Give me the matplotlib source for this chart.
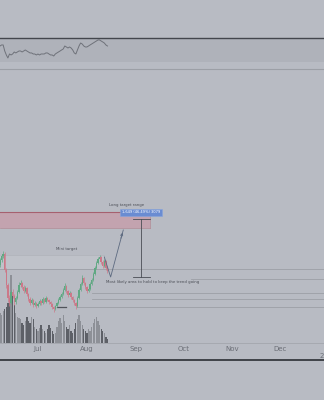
import datetime as dt

import matplotlib
matplotlib.use("Agg")
import matplotlib.pyplot as plt
import matplotlib.dates as mdates
from matplotlib.lines import Line2D

BG = "#b8bbc3"
C_UP, C_DN = "#5fa882", "#cc7888"
V_UP, V_DN = "#8d9097", "#5d6067"

START = dt.date(2023, 6, 7)

# daily candles (price units), open = previous close
first_open = 1.78
closes = [1.83, 1.87, 1.89, 1.73, 1.58, 1.45, 1.40, 1.51, 1.47, 1.41, 1.45, 1.51, 1.58, 1.60,
          1.56, 1.52, 1.55, 1.49, 1.44, 1.40, 1.43, 1.38, 1.40, 1.37, 1.39, 1.42, 1.40, 1.44,
          1.41, 1.45, 1.43, 1.41, 1.39, 1.36, 1.34, 1.37, 1.40, 1.43, 1.46, 1.49, 1.53, 1.57,
          1.52, 1.48, 1.50, 1.46, 1.43, 1.40, 1.37, 1.45, 1.53, 1.59, 1.65, 1.60, 1.56, 1.52,
          1.54, 1.59, 1.63, 1.69, 1.75, 1.80, 1.84, 1.86, 1.81, 1.77, 1.82, 1.75, 1.72]
highs = [1.85, 1.89, 1.92, 1.91, 1.75, 1.60, 1.48, 1.53, 1.54, 1.49, 1.47, 1.53, 1.61, 1.63,
         1.61, 1.58, 1.57, 1.56, 1.50, 1.46, 1.45, 1.44, 1.42, 1.41, 1.41, 1.44, 1.43, 1.46,
         1.45, 1.47, 1.46, 1.44, 1.42, 1.40, 1.37, 1.38, 1.41, 1.45, 1.48, 1.51, 1.55, 1.60,
         1.58, 1.53, 1.52, 1.51, 1.47, 1.44, 1.41, 1.47, 1.55, 1.61, 1.68, 1.66, 1.61, 1.57,
         1.56, 1.61, 1.65, 1.71, 1.77, 1.82, 1.86, 1.88, 1.87, 1.83, 1.84, 1.83, 1.77]
lows = [1.76, 1.81, 1.85, 1.71, 1.55, 1.41, 1.37, 1.39, 1.45, 1.38, 1.39, 1.44, 1.50, 1.56,
        1.54, 1.50, 1.51, 1.47, 1.42, 1.38, 1.39, 1.36, 1.37, 1.35, 1.36, 1.38, 1.38, 1.39,
        1.40, 1.40, 1.42, 1.39, 1.37, 1.34, 1.31, 1.33, 1.36, 1.39, 1.42, 1.45, 1.48, 1.52,
        1.50, 1.46, 1.47, 1.44, 1.41, 1.38, 1.34, 1.36, 1.44, 1.52, 1.58, 1.58, 1.54, 1.50,
        1.51, 1.53, 1.58, 1.62, 1.68, 1.74, 1.79, 1.83, 1.79, 1.75, 1.76, 1.73, 1.70]
volumes = [30, 28, 32, 34, 36, 40, 45, 68, 50, 38, 30, 26, 25, 24, 20, 18, 22, 26, 22, 20,
           26, 24, 16, 14, 12, 15, 18, 14, 12, 10, 14, 18, 15, 12, 9, 10, 16, 22, 25, 20,
           28, 22, 16, 14, 18, 12, 10, 14, 20, 24, 28, 22, 18, 14, 12, 10, 14, 12, 16, 20,
           24, 26, 22, 18, 14, 12, 10, 6, 4]
rsi = [57.8, 59.6, 59.6, 49.1, 42.2, 37.0, 43.9, 42.2, 43.9, 47.4, 45.7, 47.4, 49.1, 49.1,
       47.4, 49.1, 50.9, 49.1, 47.4, 45.7, 45.7, 43.9, 43.9, 42.2, 43.9, 42.2, 43.9, 43.9,
       43.9, 45.7, 45.7, 43.9, 42.2, 42.2, 40.4, 43.9, 45.7, 47.4, 49.1, 50.9, 52.6, 57.8,
       56.1, 54.3, 56.1, 54.3, 50.9, 45.7, 43.9, 50.9, 57.8, 63.0, 61.3, 57.8, 56.1, 56.1,
       57.8, 59.6, 61.3, 63.0, 64.8, 66.5, 68.3, 68.3, 66.5, 64.8, 63.0, 59.6, 57.8]

# drawings: (price, start date, end date or None for right edge)
target_zone = (2.15, 2.31, dt.date(2023, 9, 10))
mini_zone = (1.74, 1.88, dt.date(2023, 8, 12))
levels = [(1.74, START, None), (1.64, dt.date(2023, 10, 6), None),
          (1.50, dt.date(2023, 8, 4), None), (1.44, dt.date(2023, 8, 4), None),
          (1.36, dt.date(2023, 7, 26), None)]
path_dates = [dt.date(2023, 8, 12), dt.date(2023, 8, 16), dt.date(2023, 8, 24)]
path_prices = [1.86, 1.66, 2.13]
measure = (dt.date(2023, 9, 4), 1.66, 2.24)

days = [START + dt.timedelta(days=i) for i in range(len(closes))]
opens = [first_open] + closes[:-1]

fig = plt.figure(figsize=(3.24, 4.0), dpi=100, facecolor=BG)

# indicator pane
ax_ind = fig.add_axes([0, 1 - 69 / 400, 1, 31 / 400], facecolor=BG)
ax_ind.axhspan(30, 70, color="#afb2ba", lw=0)
ax_ind.plot(days, rsi, color="#6f727a", lw=0.7)
ax_ind.set_ylim(17.8, 71.7)
for s in ("left", "right", "bottom"):
    ax_ind.spines[s].set_visible(False)
ax_ind.spines["top"].set_color("#43464d")
ax_ind.spines["top"].set_linewidth(1.0)
ax_ind.set_xticks([])
ax_ind.set_yticks([])

# main pane
ax = fig.add_axes([0, 0.1425, 1, 0.685], facecolor=BG)
xlim = (mdates.date2num(START), mdates.date2num(START) + 205)
ax.set_xlim(*xlim)
ax_ind.set_xlim(*xlim)
ax.set_ylim(1.0, 3.74)

lo, hi, zend = target_zone
ax.fill_between([xlim[0], mdates.date2num(zend)], lo, hi, color="#c3a3af", lw=0, zorder=1)
ax.plot([xlim[0], mdates.date2num(zend)], [hi, hi], color="#a6606f", lw=0.8, zorder=2)
ax.plot([xlim[0], mdates.date2num(zend)], [lo, lo], color="#b38893", lw=0.5, zorder=2)
ax.plot([mdates.date2num(zend)] * 2, [lo, hi], color="#b38893", lw=0.5, zorder=2)

lo, hi, zend = mini_zone
ax.fill_between([xlim[0], mdates.date2num(zend)], lo, hi, color="#bfc2c9", lw=0, zorder=1)
ax.plot([xlim[0], mdates.date2num(zend)], [hi, hi], color="#aeb1b8", lw=0.5, zorder=2)

for price, d0, d1 in levels:
    x1 = xlim[1] if d1 is None else mdates.date2num(d1)
    ax.plot([mdates.date2num(d0), x1], [price, price], color="#9c9fa6", lw=0.6, zorder=2)
ax.plot([dt.date(2023, 7, 13), dt.date(2023, 7, 19)], [1.36, 1.36], color="#50535a", lw=0.9,
        zorder=2)

# volume on its own scale at the bottom
ax_vol = ax.twinx()
ax_vol.set_ylim(0, 274)
ax_vol.set_axis_off()
vcols = [V_UP if c >= o else V_DN for o, c in zip(opens, closes)]
ax_vol.bar(days, volumes, width=0.8, color=vcols, lw=0, zorder=1)

# candles
ccols = [C_UP if c >= o else C_DN for o, c in zip(opens, closes)]
ax.vlines(days, lows, highs, colors=ccols, lw=0.5, zorder=4)
ax.bar(days, [abs(c - o) + 0.004 for o, c in zip(opens, closes)], width=0.85,
       bottom=[min(o, c) for o, c in zip(opens, closes)], color=ccols, lw=0, zorder=4)
ax.set_zorder(ax_vol.get_zorder() + 1)
ax.patch.set_visible(False)
ax_vol.patch.set_visible(False)

# projected path
ax.plot(path_dates, path_prices, color="#5d6a80", lw=0.6, zorder=5)
ax.annotate("", xy=(path_dates[-1], path_prices[-1]),
            xytext=(path_dates[-2] + dt.timedelta(days=6), 2.02),
            arrowprops=dict(arrowstyle="->", color="#5d6a80", lw=0.6, mutation_scale=4))

# measure
md, m0, m1 = measure
ax.plot([md, md], [m0, m1], color="#4a4d55", lw=0.6, zorder=5)
for p in (m0, m1):
    ax.plot([md - dt.timedelta(days=5), md + dt.timedelta(days=6)], [p, p],
            color="#4a4d55", lw=0.6, zorder=5)
ax.text(md, 2.305, "1,649 (46.49%) 3079", fontsize=2.6, color="white", ha="center",
        va="center", zorder=6,
        bbox=dict(boxstyle="square,pad=0.5", fc="#6a8cd2", ec="#87a3dd", lw=0.4))
ax.text(dt.date(2023, 8, 26), 2.38, "Long target range", fontsize=2.8, color="#4a4d55",
        ha="center", va="center", zorder=6)
ax.text(dt.date(2023, 7, 19), 1.94, "Mini target", fontsize=2.8, color="#4a4d55",
        ha="center", va="center", zorder=6)
ax.text(dt.date(2023, 8, 13), 1.61, "Most likely area to hold to keep the trend going",
        fontsize=2.8, color="#4a4d55", ha="left", va="center", zorder=6)

ax.xaxis.set_major_locator(mdates.MonthLocator(bymonth=[7, 8, 9, 10, 11, 12]))
ax.xaxis.set_major_formatter(mdates.DateFormatter("%b"))
ax.tick_params(axis="x", length=0, pad=2.5, labelsize=5, labelcolor="#6b6e76")
ax.set_yticks([])
for s in ("left", "right", "top"):
    ax.spines[s].set_visible(False)
ax.spines["bottom"].set_color("#a3a6ad")
ax.spines["bottom"].set_linewidth(0.6)
ax.plot(xlim, [3.74, 3.74], color="#9c9fa6", lw=0.8, clip_on=False)
# year label sits past the right edge, as in the screenshot only its first digit shows
ax.text(mdates.date2num(dt.date(2024, 1, 1)), -0.035, "2024", transform=ax.get_xaxis_transform(),
        fontsize=5, color="#6b6e76", ha="center", va="top", clip_on=False)

fig.add_artist(Line2D([0, 1], [1 - 360 / 400] * 2, transform=fig.transFigure,
                      color="#2b2e34", lw=1.2))

fig.savefig("out.png", dpi=100, facecolor=BG)
